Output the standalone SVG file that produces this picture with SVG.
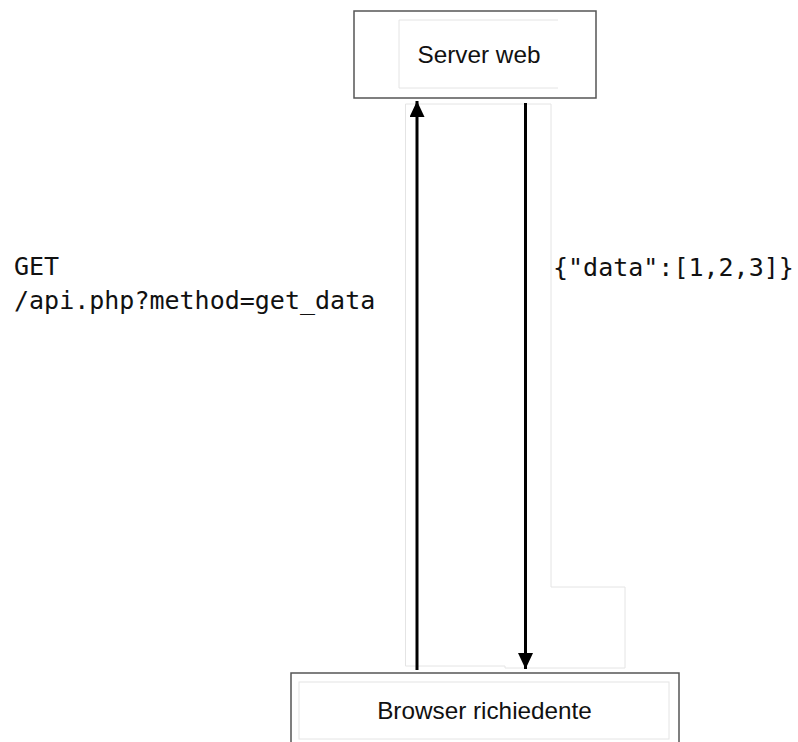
<svg xmlns="http://www.w3.org/2000/svg" width="798" height="742" viewBox="0 0 798 742">
<style>
.box{fill:#fff;stroke:#555;stroke-width:1.5}
.inner{fill:none;stroke:#e4e4e4;stroke-width:1}
.lbl{font-family:"Liberation Sans",Arial,sans-serif;font-size:24.3px;fill:#111;text-anchor:middle}
.mono{font-family:"DejaVu Sans Mono","Liberation Mono",monospace;font-size:25px;fill:#111}
.arrow{stroke:#000;stroke-width:3;fill:none}
</style>
<defs>
<marker id="ah" viewBox="0 0 16 15" refX="16" refY="7.5" markerWidth="16" markerHeight="15" markerUnits="userSpaceOnUse" orient="auto">
<path d="M0,0 L16,7.5 L0,15 Z" fill="#000"/>
</marker>
</defs>
<rect width="798" height="742" fill="#fff"/>
<path class="inner" d="M405.5,104 L551,104 L551,587 L625,587 L625,668 L505,668 L505,666 L405.5,666 Z"/>
<g id="server">
<rect class="box" x="354" y="11" width="242" height="87"/>
<path class="inner" d="M558,20 L399,20 L399,88 L558,88"/>
<text class="lbl" x="479" y="63">Server web</text>
</g>
<g id="browser">
<rect class="box" x="291" y="673" width="388" height="80"/>
<rect class="inner" x="299" y="682" width="370" height="57"/>
<text class="lbl" x="484.5" y="719">Browser richiedente</text>
</g>
<g id="connectors">
<line class="arrow" x1="417" y1="670" x2="417" y2="101" marker-end="url(#ah)"/>
<line class="arrow" x1="525.5" y1="103" x2="525.5" y2="669" marker-end="url(#ah)"/>
<text class="mono" x="14" y="275">GET</text>
<text class="mono" x="14" y="309">/api.php?method=get_data</text>
<text class="mono" x="553" y="276">{"data":[1,2,3]}</text>
</g>
</svg>
